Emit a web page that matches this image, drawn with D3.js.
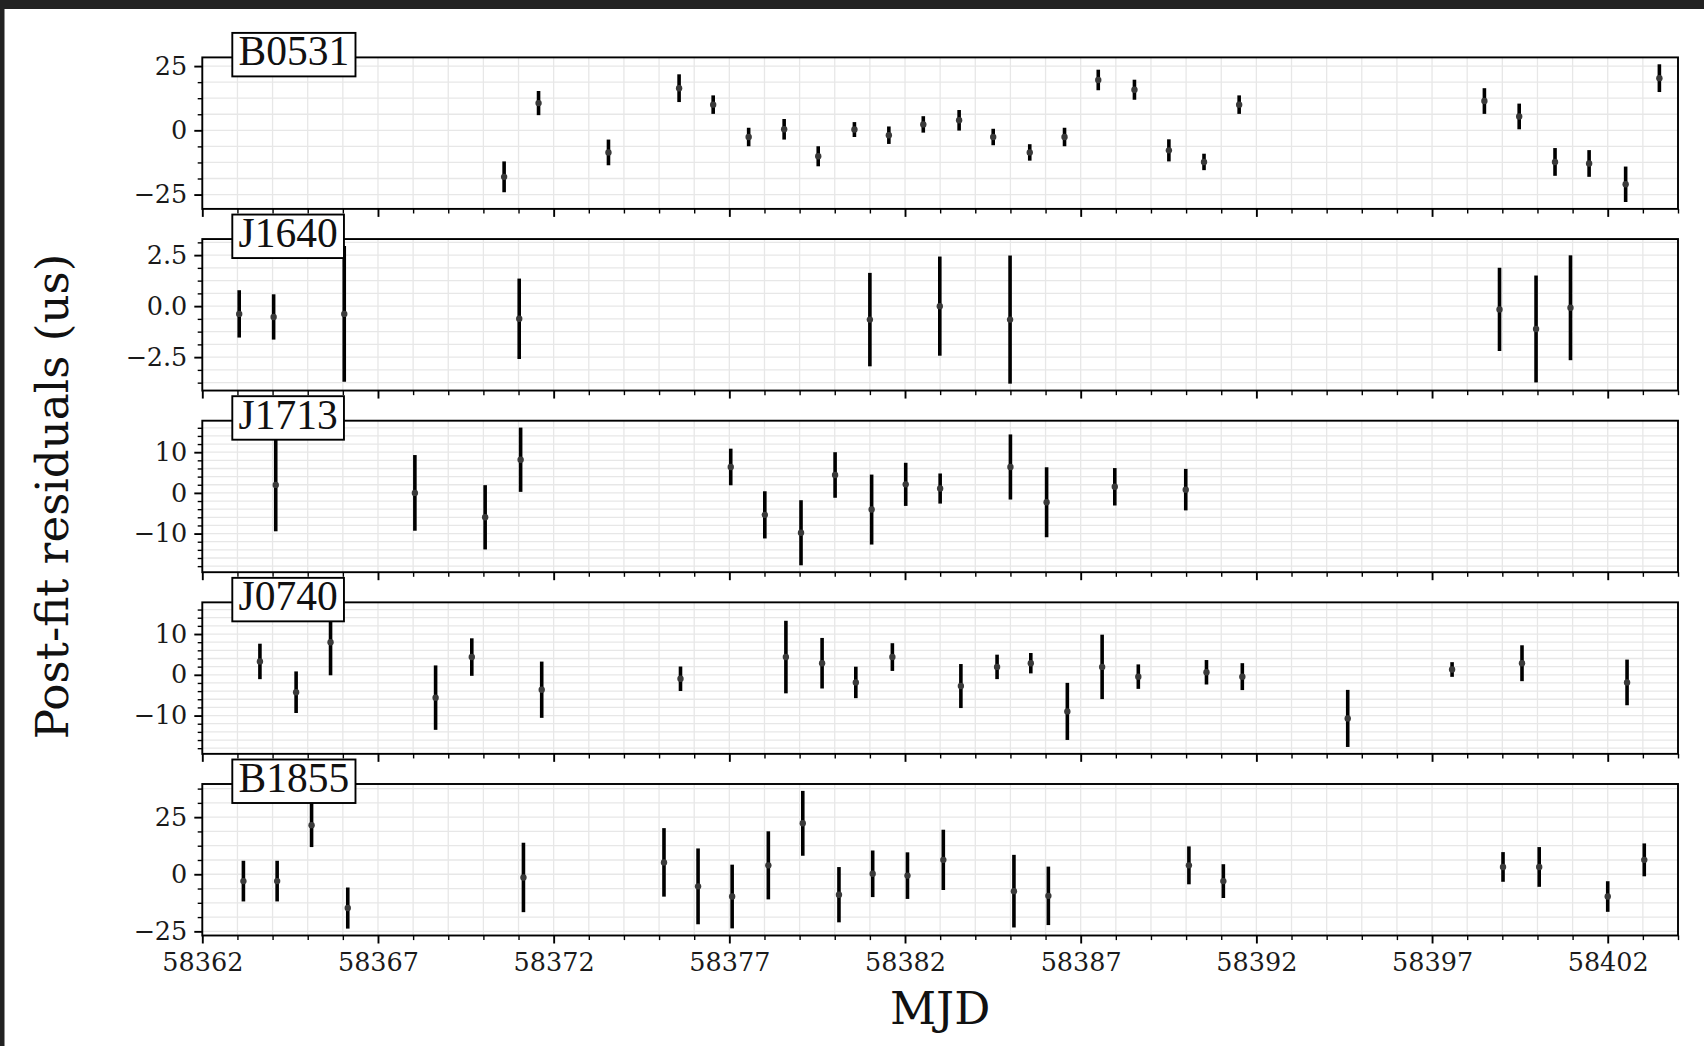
<!DOCTYPE html>
<html>
<head>
<meta charset="utf-8">
<script src="https://cdn.jsdelivr.net/npm/d3@7/dist/d3.min.js"></script>
<style>
  html, body { margin: 0; padding: 0; background: #ffffff; }
  svg { display: block; }
  .tick text { font-family: "DejaVu Serif", serif; }
</style>
</head>
<body>
<svg id="chart" width="1704" height="1046"></svg>
<script>
// Pulsar names, top to bottom
const pulsars = ["B0531", "J1640", "J1713", "J0740", "B1855"];

// Post-fit timing residuals (us) per pulsar: epoch (MJD), residual, 1-sigma error
const b0531Mjd = [58370.59, 58371.57, 58373.56, 58375.57, 58376.54, 58377.55, 58378.56, 58379.53, 58380.56, 58381.54, 58382.52, 58383.54, 58384.51, 58385.55, 58386.54, 58387.50, 58388.53, 58389.51, 58390.51, 58391.51, 58398.49, 58399.48, 58400.50, 58401.47, 58402.51, 58403.47];
const b0531Res = [-18.1, 10.6, -8.6, 16.4, 10.0, -2.6, 0.4, -10.1, 0.3, -1.9, 2.3, 3.9, -2.6, -8.6, -2.6, 19.6, 15.8, -7.8, -12.3, 10.0, 11.4, 5.4, -12.3, -12.9, -21.0, 20.3];
const b0531Err = [6.0, 4.7, 5.0, 5.4, 3.6, 3.6, 4.0, 3.9, 2.9, 3.4, 3.2, 4.0, 3.2, 3.2, 3.6, 4.0, 3.9, 4.3, 3.2, 3.6, 5.0, 5.0, 5.4, 5.2, 6.9, 5.4];

const j1640Mjd = [58363.05, 58364.03, 58366.04, 58371.02, 58381.00, 58382.99, 58384.99, 58398.92, 58399.96, 58400.94];
const j1640Res = [-0.38, -0.53, -0.38, -0.62, -0.66, 0.0, -0.66, -0.16, -1.12, -0.08];
const j1640Err = [1.16, 1.11, 3.33, 1.97, 2.29, 2.43, 3.14, 2.04, 2.62, 2.57];

const j1713Mjd = [58364.09, 58368.05, 58370.05, 58371.06, 58377.04, 58378.01, 58379.04, 58380.01, 58381.05, 58382.02, 58383.00, 58385.00, 58386.03, 58387.97, 58389.99];
const j1713Res = [1.96, 0.0, -6.0, 8.15, 6.37, -5.4, -9.8, 4.4, -4.1, 2.1, 1.07, 6.37, -2.3, 1.5, 0.8];
const j1713Err = [11.4, 9.3, 7.9, 7.9, 4.5, 5.8, 8.0, 5.6, 8.6, 5.3, 3.7, 8.0, 8.6, 4.6, 5.1];

const j0740Mjd = [58363.64, 58364.67, 58365.65, 58368.64, 58369.67, 58371.66, 58375.61, 58378.61, 58379.64, 58380.60, 58381.64, 58383.59, 58384.62, 58385.58, 58386.62, 58387.61, 58388.64, 58390.58, 58391.60, 58394.60, 58397.57, 58399.56, 58402.55];
const j0740Res = [3.28, -4.27, 7.98, -5.6, 4.35, -3.66, -0.97, 4.35, 2.84, -1.87, 4.35, -2.76, 1.94, 2.84, -8.98, 1.94, -0.45, 0.62, -0.45, -10.7, 1.3, 2.84, -1.87];
const j0740Err = [4.35, 5.1, 8.1, 7.9, 4.6, 6.9, 3.0, 8.9, 6.2, 3.86, 3.4, 5.4, 3.0, 2.5, 7.0, 7.9, 3.0, 3.0, 3.3, 7.0, 1.8, 4.4, 5.6];

const b1855Mjd = [58363.17, 58364.13, 58365.11, 58366.14, 58371.14, 58375.14, 58376.11, 58377.08, 58378.11, 58379.09, 58380.12, 58381.08, 58382.07, 58383.09, 58385.10, 58386.08, 58390.08, 58391.06, 58399.02, 58400.05, 58402.00, 58403.04];
const b1855Res = [-3.0, -3.0, 21.5, -14.8, -1.4, 5.2, -5.3, -9.75, 3.9, 22.3, -8.95, 0.2, -0.6, 6.3, -7.4, -9.45, 3.9, -3.0, 3.2, 3.2, -9.75, 6.3];
const b1855Err = [8.9, 8.9, 9.6, 9.0, 15.2, 15.0, 16.6, 13.95, 14.9, 14.2, 12.1, 10.2, 10.2, 13.2, 15.9, 12.8, 8.3, 7.4, 6.5, 8.7, 6.7, 7.2];

// Axis ticks
const mjdTicks = [58362, 58367, 58372, 58377, 58382, 58387, 58392, 58397, 58402];
const mjdRange = [58362, 58404];
const b0531Ticks = [-25, 0, 25];
const j1640Ticks = [-2.5, 0, 2.5];
const j1713Ticks = [-10, 0, 10];
const j0740Ticks = [-10, 0, 10];
const b1855Ticks = [-25, 0, 25];

// Minor tick step per panel (major step split in 4 or 5)
const minorSteps = [6.25, 0.625, 2, 2, 6.25];

const panels = [
  { name: pulsars[0], mjd: b0531Mjd, res: b0531Res, err: b0531Err, ticks: b0531Ticks, fmt: d3.format("d") },
  { name: pulsars[1], mjd: j1640Mjd, res: j1640Res, err: j1640Err, ticks: j1640Ticks, fmt: d3.format(".1f") },
  { name: pulsars[2], mjd: j1713Mjd, res: j1713Res, err: j1713Err, ticks: j1713Ticks, fmt: d3.format("d") },
  { name: pulsars[3], mjd: j0740Mjd, res: j0740Res, err: j0740Err, ticks: j0740Ticks, fmt: d3.format("d") },
  { name: pulsars[4], mjd: b1855Mjd, res: b1855Res, err: b1855Err, ticks: b1855Ticks, fmt: d3.format("d") }
];

// Layout
const W = 1704, H = 1046;
const plotLeft = 202.3, plotRight = 1678;
const firstTop = 57.4, pitch = 181.65, panelH = 151.5;
const serif = "'DejaVu Serif', serif";
const labelSerif = "'Liberation Serif', 'Times New Roman', serif";
const gridColor = "#e7e7e7";
const tickFont = 25.5;

const svg = d3.select("#chart");
svg.append("rect").attr("width", W).attr("height", H).attr("fill", "#ffffff");

const x = d3.scaleLinear().domain(mjdRange).range([plotLeft, plotRight]);
const xMinor = d3.range(mjdRange[0], mjdRange[1] + 0.001, 1).filter(v => !mjdTicks.includes(v));
const xAll = d3.range(mjdRange[0], mjdRange[1] + 0.001, 1);

function minorValues(domain, step, majors) {
  const lo = Math.ceil(domain[0] / step - 1e-9) * step;
  const out = [];
  for (let v = lo; v <= domain[1] + 1e-9; v += step) {
    const r = Math.round(v * 1000) / 1000;
    if (!majors.some(m => Math.abs(m - r) < 1e-6)) out.push(r);
  }
  return out;
}

panels.forEach((p, i) => {
  const top = firstTop + i * pitch;
  const bottom = top + panelH;

  // y extent from the error bars, padded like an autoscaled axis
  const lo = d3.min(p.res, (r, k) => r - p.err[k]);
  const hi = d3.max(p.res, (r, k) => r + p.err[k]);
  const pad = 0.05 * (hi - lo);
  const y = d3.scaleLinear().domain([lo - pad, hi + pad]).range([bottom, top]);
  const yMinor = minorValues(y.domain(), minorSteps[i], p.ticks);
  const yAll = yMinor.concat(p.ticks);

  const g = svg.append("g");

  // grid
  const grid = g.append("g");
  grid.selectAll("line.gx").data(xAll).join("line")
    .attr("x1", d => x(d)).attr("x2", d => x(d))
    .attr("y1", top).attr("y2", bottom)
    .attr("stroke", gridColor).attr("stroke-width", 1.3);
  grid.selectAll("line.gy").data(yAll).join("line")
    .attr("x1", plotLeft).attr("x2", plotRight)
    .attr("y1", d => y(d)).attr("y2", d => y(d))
    .attr("stroke", gridColor).attr("stroke-width", 1.3);

  // error bars and points
  const idx = d3.range(p.mjd.length);
  g.append("g").selectAll("line").data(idx).join("line")
    .attr("x1", k => x(p.mjd[k])).attr("x2", k => x(p.mjd[k]))
    .attr("y1", k => y(p.res[k] - p.err[k])).attr("y2", k => y(p.res[k] + p.err[k]))
    .attr("stroke", "#000").attr("stroke-width", 3.6);
  g.append("g").selectAll("circle").data(idx).join("circle")
    .attr("cx", k => x(p.mjd[k])).attr("cy", k => y(p.res[k]))
    .attr("r", 3.2).attr("fill", "#3a3a3a");

  // frame
  g.append("rect")
    .attr("x", plotLeft).attr("y", top)
    .attr("width", plotRight - plotLeft).attr("height", panelH)
    .attr("fill", "none").attr("stroke", "#000").attr("stroke-width", 1.9);

  // y axis: major + minor ticks
  const yAxis = g.append("g").attr("transform", `translate(${plotLeft},0)`)
    .call(d3.axisLeft(y).tickValues(p.ticks).tickSize(8).tickPadding(7)
      .tickFormat(d => p.fmt(d).replace("-", "\u2212")));
  const yAxisMinor = g.append("g").attr("transform", `translate(${plotLeft},0)`)
    .call(d3.axisLeft(y).tickValues(yMinor).tickSize(4.6).tickFormat(""));

  // x axis ticks on every panel, labels only on the last
  const last = i === panels.length - 1;
  const xAxis = g.append("g").attr("transform", `translate(0,${bottom})`)
    .call(d3.axisBottom(x).tickValues(mjdTicks).tickSize(8).tickPadding(9)
      .tickFormat(last ? d3.format("d") : () => ""));
  const xAxisMinor = g.append("g").attr("transform", `translate(0,${bottom})`)
    .call(d3.axisBottom(x).tickValues(xMinor).tickSize(4.6).tickFormat(""));

  [yAxis, yAxisMinor, xAxis, xAxisMinor].forEach(a => {
    a.select(".domain").remove();
    a.selectAll(".tick line").attr("stroke", "#000");
  });
  [yAxis, xAxis].forEach(a => a.selectAll(".tick line").attr("stroke-width", 1.9));
  [yAxisMinor, xAxisMinor].forEach(a => a.selectAll(".tick line").attr("stroke-width", 1.4));
  [yAxis, xAxis].forEach(a => a.selectAll(".tick text")
    .attr("font-family", serif).attr("font-size", tickFont).attr("fill", "#1a1a1a"));

  // pulsar name box
  const lab = g.append("g");
  const txt = lab.append("text")
    .attr("x", 238.5).attr("y", top + 8)
    .attr("font-family", labelSerif).attr("font-size", 41.5).attr("fill", "#111")
    .text(p.name);
  const tw = txt.node().getComputedTextLength();
  lab.insert("rect", "text")
    .attr("x", 232.3).attr("y", top - 24.5)
    .attr("width", tw + 12.5).attr("height", 43.5)
    .attr("fill", "#ffffff").attr("stroke", "#000").attr("stroke-width", 1.9);
});

// axis titles
svg.append("text")
  .attr("x", (plotLeft + plotRight) / 2).attr("y", 1024)
  .attr("text-anchor", "middle")
  .attr("font-family", serif).attr("font-size", 45).attr("fill", "#111")
  .text("MJD");

svg.append("text")
  .attr("transform", `translate(68,${firstTop + (4 * pitch + panelH) / 2}) rotate(-90)`)
  .attr("text-anchor", "middle")
  .attr("font-family", serif).attr("font-size", 45.2).attr("fill", "#111")
  .text("Post-fit residuals (us)");

// dark page edge along the top and left
svg.append("rect").attr("x", 0).attr("y", 0).attr("width", W).attr("height", 9).attr("fill", "#222222");
svg.append("rect").attr("x", 0).attr("y", 0).attr("width", 4.5).attr("height", H).attr("fill", "#222222");
</script>
</body>
</html>
